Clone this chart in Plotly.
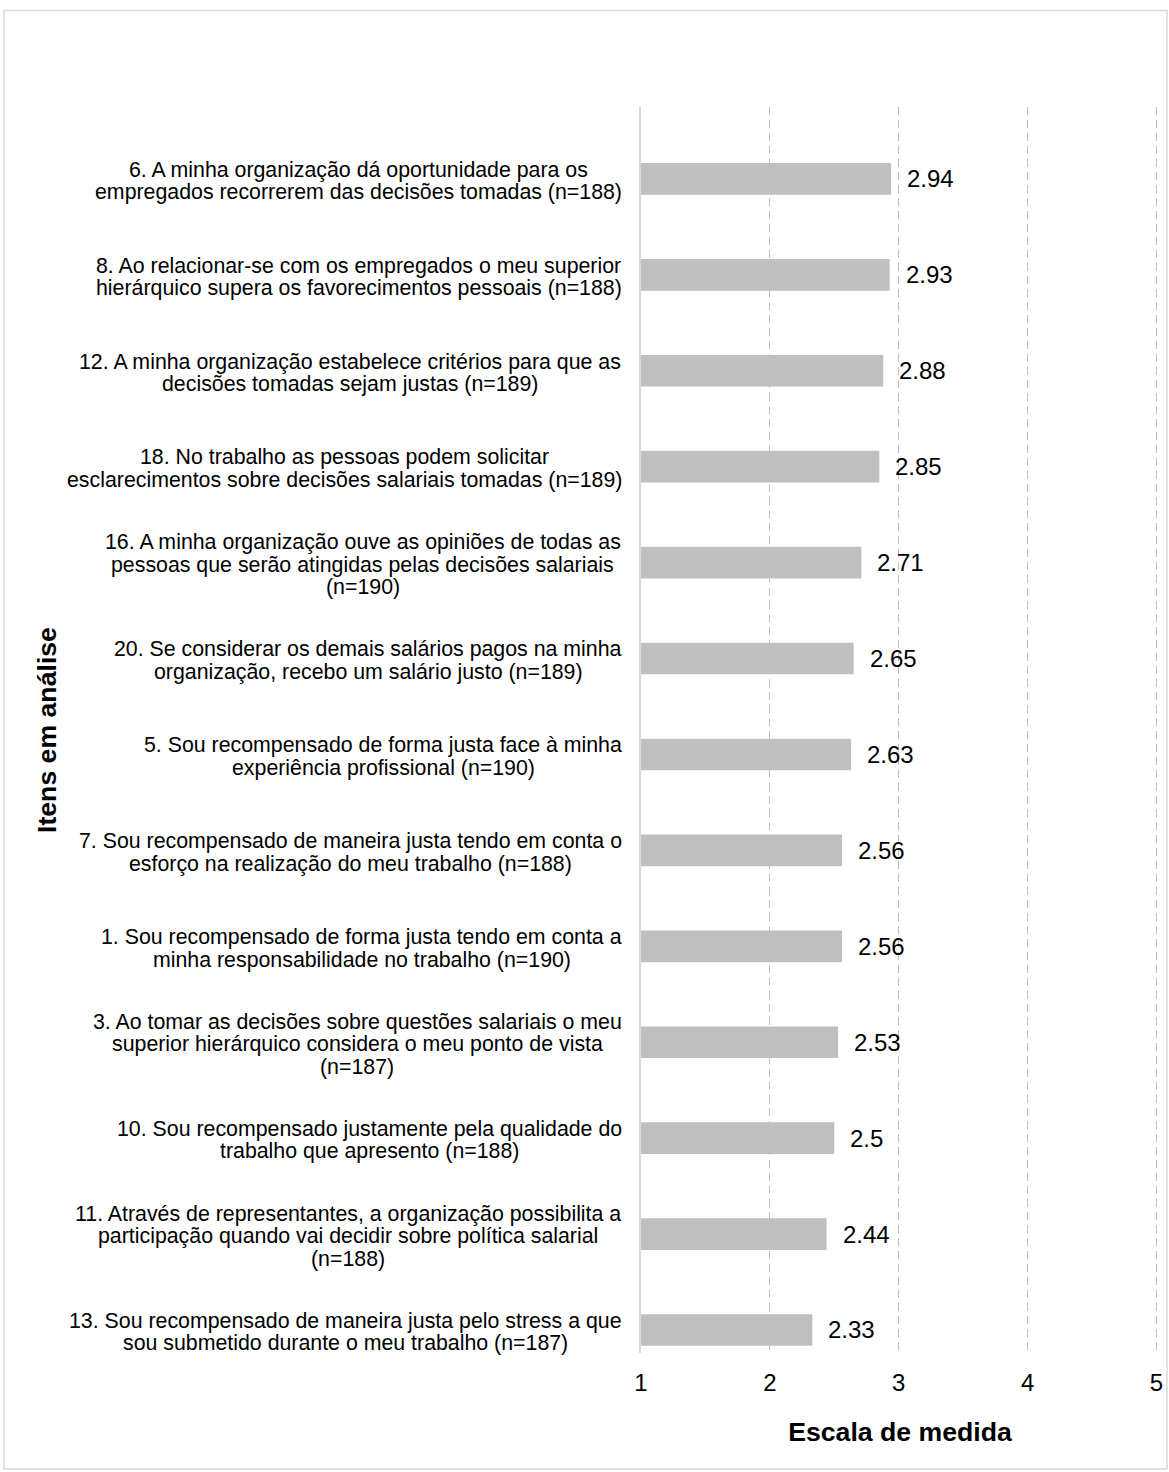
import plotly.graph_objects as go

items = [
    "6. A minha organização dá oportunidade para os<br>empregados recorrerem das decisões tomadas (n=188)",
    "8. Ao relacionar-se com os empregados o meu superior<br>hierárquico supera os favorecimentos pessoais (n=188)",
    "12. A minha organização estabelece critérios para que as<br>decisões tomadas sejam justas (n=189)",
    "18. No trabalho as pessoas podem solicitar<br>esclarecimentos sobre decisões salariais tomadas (n=189)",
    "16. A minha organização ouve as opiniões de todas as<br>pessoas que serão atingidas pelas decisões salariais<br>(n=190)",
    "20. Se considerar os demais salários pagos na minha<br>organização, recebo um salário justo (n=189)",
    "5. Sou recompensado de forma justa face à minha<br>experiência profissional (n=190)",
    "7. Sou recompensado de maneira justa tendo em conta o<br>esforço na realização do meu trabalho (n=188)",
    "1. Sou recompensado de forma justa tendo em conta a<br>minha responsabilidade no trabalho (n=190)",
    "3. Ao tomar as decisões sobre questões salariais o meu<br>superior hierárquico considera o meu ponto de vista<br>(n=187)",
    "10. Sou recompensado justamente pela qualidade do<br>trabalho que apresento (n=188)",
    "11. Através de representantes, a organização possibilita a<br>participação quando vai decidir sobre política salarial<br>(n=188)",
    "13. Sou recompensado de maneira justa pelo stress a que<br>sou submetido durante o meu trabalho (n=187)",
]
means = [2.94, 2.93, 2.88, 2.85, 2.71, 2.65, 2.63, 2.56, 2.56, 2.53, 2.5, 2.44, 2.33]
value_labels = ["2.94", "2.93", "2.88", "2.85", "2.71", "2.65", "2.63", "2.56", "2.56", "2.53", "2.5", "2.44", "2.33"]
x_ticks = [1, 2, 3, 4, 5]

FONT = "Liberation Sans, Arial, sans-serif"
LABEL_SIZE = 21.33
LINE_GAP = 22.5
LABEL_GAP = 19  # px between label block and the axis

# Arial / Liberation Sans advance widths (per 1000 em) to centre the lines of each label block
_W = {" ": 278, ".": 278, ",": 278, "-": 333, "(": 333, ")": 333, "=": 584,
      "A": 667, "N": 722, "S": 667, "I": 278,
      "a": 556, "b": 556, "c": 500, "d": 556, "e": 556, "f": 278, "g": 556, "h": 556,
      "i": 222, "j": 222, "k": 500, "l": 222, "m": 833, "n": 556, "o": 556, "p": 556,
      "q": 556, "r": 333, "s": 500, "t": 278, "u": 556, "v": 500, "w": 722, "x": 500,
      "y": 500, "z": 500,
      "á": 556, "à": 556, "ã": 556, "â": 556, "é": 556, "ê": 556, "í": 278, "ó": 556,
      "õ": 556, "ô": 556, "ú": 556, "ç": 500}


def text_width(s, size):
    return sum(_W.get(ch, 556) for ch in s) / 1000.0 * size


fig = go.Figure(go.Bar(
    y=items,
    x=[m - 1 for m in means],
    base=1,
    orientation="h",
    marker=dict(color="#BFBFBF", line=dict(width=0)),
    width=0.33,
    hoverinfo="skip",
))

annotations = []
for it, m, lab in zip(items, means, value_labels):
    annotations.append(dict(
        x=m, y=it, xref="x", yref="y", text=lab, showarrow=False,
        xanchor="left", yanchor="middle", xshift=14,
        font=dict(family=FONT, size=24, color="#000000"),
    ))
    lines = it.split("<br>")
    nl = len(lines)
    block_w = max(text_width(ln, LABEL_SIZE) for ln in lines)
    cx = -LABEL_GAP - block_w / 2.0
    for k, ln in enumerate(lines):
        annotations.append(dict(
            x=0, y=it, xref="paper", yref="y", text=ln, showarrow=False,
            xanchor="center", yanchor="middle",
            xshift=cx, yshift=((nl - 1) / 2 - k) * LINE_GAP - 2,
            font=dict(family=FONT, size=LABEL_SIZE, color="#000000"),
        ))

annotations.append(dict(
    x=-1.1467, y=0.5, xref="paper", yref="paper", text="<b>Itens em análise</b>",
    textangle=-90, showarrow=False, xanchor="center", yanchor="middle",
    font=dict(family=FONT, size=26.67, color="#000000"),
))

n = len(items)
fig.update_layout(
    width=1169, height=1472,
    margin=dict(l=641, r=10, t=107, b=119, autoexpand=False),
    paper_bgcolor="white", plot_bgcolor="white",
    showlegend=False,
    font=dict(family=FONT, color="#000000"),
    annotations=annotations,
    shapes=[dict(type="rect", xref="paper", yref="paper",
                 x0=-1.2297, x1=1.0154, y0=-0.0931, y1=1.0775,
                 line=dict(color="#D9D9D9", width=1.5), layer="below")],
    xaxis=dict(
        range=[1, 5.02], tickvals=x_ticks, ticktext=[str(t) for t in x_ticks],
        showgrid=True, gridcolor="#BFBFBF", griddash="8px,5px", gridwidth=1,
        zeroline=False, showline=False, ticks="", ticklabelstandoff=13,
        automargin=False,
        tickfont=dict(family=FONT, size=24, color="#000000"),
        title=dict(text="<b>Escala de medida</b>", standoff=27,
                   font=dict(family=FONT, size=26.67, color="#000000")),
    ),
    yaxis=dict(
        categoryorder="array", categoryarray=items[::-1],
        range=[-0.24, n - 1 + 0.75], automargin=False,
        showticklabels=False, showgrid=False, zeroline=False,
        showline=True, linecolor="#D9D9D9", linewidth=1.5, ticks="",
    ),
)

fig.write_html("out.html", config={"displayModeBar": False},
               post_script="document.body.style.margin='0px';")
